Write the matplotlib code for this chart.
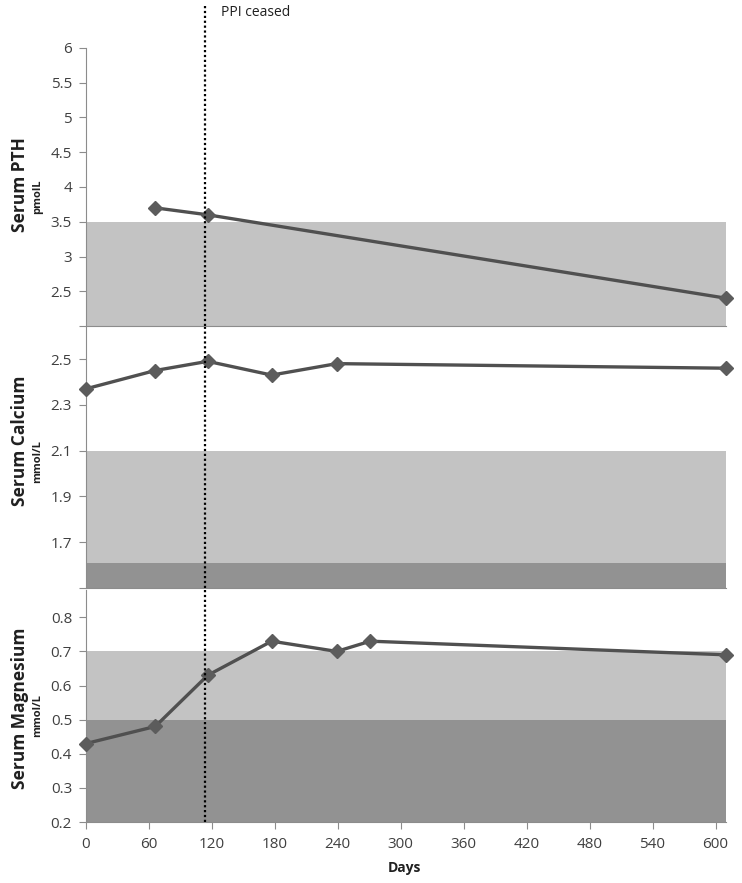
import matplotlib
matplotlib.use("Agg")
import matplotlib.pyplot as plt
import numpy as np

plt.rcParams['font.family'] = ['Open Sans', 'DejaVu Sans']

# ---- data ----
pth_days = [66, 116, 610]
pth_vals = [3.7, 3.6, 2.4]

ca_days = [0, 66, 116, 177, 239, 610]
ca_vals = [2.37, 2.45, 2.49, 2.43, 2.48, 2.46]

mg_days = [0, 66, 116, 177, 239, 271, 610]
mg_vals = [0.43, 0.48, 0.63, 0.73, 0.70, 0.73, 0.69]

ppi_day = 113
x_ticks = [0, 60, 120, 180, 240, 300, 360, 420, 480, 540, 600]

pth_ticks = [2, 2.5, 3, 3.5, 4, 4.5, 5, 5.5, 6]
ca_ticks = [1.5, 1.7, 1.9, 2.1, 2.3, 2.5]
mg_ticks = [0.2, 0.3, 0.4, 0.5, 0.6, 0.7, 0.8]

# reference bands: (low, high, shade)
pth_bands = [(2.0, 3.5, 'light')]
ca_bands = [(1.5, 1.61, 'dark'), (1.61, 2.1, 'light')]
mg_bands = [(0.2, 0.5, 'dark'), (0.5, 0.7, 'light')]

# ---- style ----
LIGHT = '#c3c3c3'
DARK = '#929292'
LINE = '#505050'
MARK = '#5c5c5c'
TXT = '#404040'
SPINE = '#8c8c8c'

W, H = 742, 883
fig = plt.figure(figsize=(W / 100, H / 100), dpi=100)

def px_axes(top, bottom, left=86, right=726):
    return fig.add_axes([left / W, 1 - bottom / H, (right - left) / W, (bottom - top) / H])

ax1 = px_axes(48, 326)
ax2 = px_axes(327, 588)
ax3 = px_axes(590, 822)

XMAX = 610

def style(ax, ylim, yticks, hide_first_label, bands, days, vals, show_x):
    ax.set_xlim(0, XMAX)
    ax.set_ylim(*ylim)
    for lo, hi, kind in bands:
        ax.axhspan(lo, hi, xmin=0, xmax=1, color=LIGHT if kind == 'light' else DARK, lw=0, zorder=1)
    ax.plot(days, vals, color=LINE, lw=2.4, marker='D', markersize=7,
            markerfacecolor=MARK, markeredgecolor=MARK, zorder=4, clip_on=False)
    ax.set_yticks(yticks)
    labels = [('%g' % t) for t in yticks]
    if hide_first_label:
        labels[0] = ''
    ax.set_yticklabels(labels)
    for s in ['top', 'right']:
        ax.spines[s].set_visible(False)
    ax.spines['left'].set_color(SPINE)
    ax.spines['bottom'].set_color(SPINE)
    ax.tick_params(axis='y', colors=SPINE, labelcolor=TXT, labelsize=11, length=5, width=0.8, pad=5)
    if show_x:
        ax.set_xticks(x_ticks)
        ax.tick_params(axis='x', colors=SPINE, labelcolor=TXT, labelsize=11, length=5, width=0.8, pad=6)
    else:
        ax.set_xticks([])
    ax.set_facecolor('none')

style(ax1, (2, 6), pth_ticks, True, pth_bands, pth_days, pth_vals, False)
style(ax2, (1.5, 2.64), ca_ticks, True, ca_bands, ca_days, ca_vals, False)
style(ax3, (0.2, 0.88), mg_ticks, False, mg_bands, mg_days, mg_vals, True)

# PPI ceased dotted line
ax1.axvline(ppi_day, ymin=0, ymax=1 + 43 / 278, color='black', ls=(0, (1, 1.2)), lw=1.6, clip_on=False, zorder=5)
ax2.axvline(ppi_day, color='black', ls=(0, (1, 1.2)), lw=1.6, zorder=5)
ax3.axvline(ppi_day, color='black', ls=(0, (1, 1.2)), lw=1.6, zorder=5)
fig.text(221 / W, 1 - 13 / H, 'PPI ceased', fontsize=10, color='#202020', va='center', ha='left')

ax3.set_xlabel('Days', fontsize=10, fontweight='bold', color='#202020', labelpad=6)
ax3.xaxis.set_label_coords((404 - 86) / (726 - 86), -0.17)

def ylab(main, unit, ymain, yunit):
    fig.text(20 / W, 1 - ymain / H, main, rotation=90, fontsize=12.5, fontweight='bold',
             color='#202020', ha='center', va='center')
    fig.text(38 / W, 1 - yunit / H, unit, rotation=90, fontsize=8, fontweight='bold',
             color='#202020', ha='center', va='center')

ylab('Serum PTH', 'pmolL', 185, 197)
ylab('Serum Calcium', 'mmol/L', 441, 462)
ylab('Serum Magnesium', 'mmol/L', 708, 716)

fig.savefig('out.png', dpi=100, facecolor='white')
